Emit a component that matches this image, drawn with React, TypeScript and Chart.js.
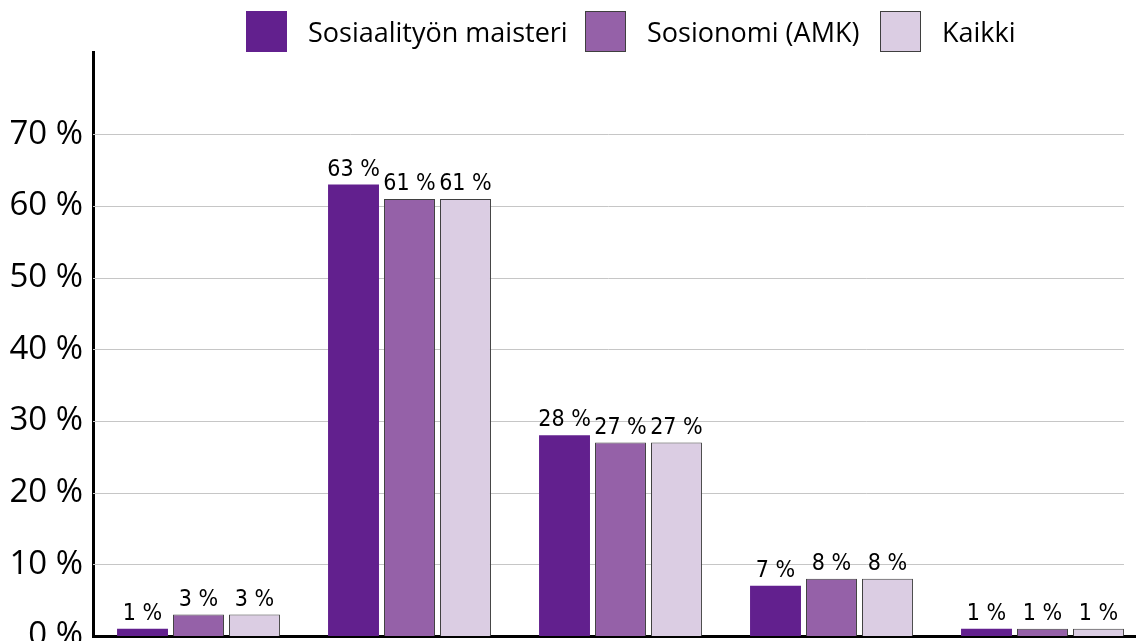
import React, { useEffect, useRef } from "react";
import { Chart, registerables } from "chart.js";

Chart.register(...registerables);

const categories = ["1", "2", "3", "4", "5"];
const seriesNames = ["Sosiaalityön maisteri", "Sosionomi (AMK)", "Kaikki"];
const sosiaalityo = [1, 63, 28, 7, 1];
const sosionomi = [3, 61, 27, 8, 1];
const kaikki = [3, 61, 27, 8, 1];
const yTicks = [0, 10, 20, 30, 40, 50, 60, 70];

const fills = ["#62208e", "#9561a8", "#dbcde3"];
const borders = ["#62208e", "#3f3f3f", "#3f3f3f"];

const gridPlugin = {
  id: "customGrid",
  beforeDatasetsDraw(chart: any) {
    const { ctx, chartArea, scales } = chart;
    const metaLast = chart.getDatasetMeta(chart.data.datasets.length - 1);
    const lastBar = metaLast.data[metaLast.data.length - 1] as any;
    const right = lastBar.x + lastBar.width / 2;
    ctx.save();
    ctx.strokeStyle = "#c6c6c6";
    ctx.lineWidth = 1;
    yTicks.forEach((v) => {
      if (v === 0) return;
      const y = Math.round(scales.y.getPixelForValue(v)) + 0.5;
      ctx.beginPath();
      ctx.moveTo(chartArea.left, y);
      ctx.lineTo(right, y);
      ctx.stroke();
    });
    ctx.restore();
  },
};

const labelPlugin = {
  id: "valueLabels",
  afterDatasetsDraw(chart: any) {
    const { ctx } = chart;
    ctx.save();
    ctx.font = '23px "DejaVu Sans Condensed", "DejaVu Sans"';
    ctx.fillStyle = "#000";
    ctx.textAlign = "center";
    ctx.textBaseline = "alphabetic";
    chart.data.datasets.forEach((ds: any, i: number) => {
      const meta = chart.getDatasetMeta(i);
      meta.data.forEach((bar: any, j: number) => {
        ctx.fillText(ds.data[j] + " %", bar.x, bar.y - 9);
      });
    });
    ctx.restore();
  },
};

export default function App() {
  const ref = useRef<HTMLCanvasElement>(null);
  useEffect(() => {
    const values = [sosiaalityo, sosionomi, kaikki];
    const chart = new Chart(ref.current!, {
      type: "bar",
      data: {
        labels: categories,
        datasets: seriesNames.map((name, i) => ({
          label: name,
          data: values[i],
          backgroundColor: fills[i],
          borderColor: borders[i],
          borderWidth: i === 0 ? 0 : 1,
          barPercentage: 0.91,
          categoryPercentage: 0.796,
        })),
      },
      options: {
        responsive: false,
        animation: false,
        layout: { padding: { top: 52, right: 2, bottom: 5, left: 0 } },
        plugins: { legend: { display: false }, tooltip: { enabled: false } },
        scales: {
          x: {
            ticks: { display: false },
            grid: { display: false, drawTicks: false, tickLength: 0 },
            border: { display: true, color: "#000", width: 3 },
            afterFit: (scale: any) => {
              scale.height = 0;
              scale.paddingLeft = 0;
              scale.paddingRight = 0;
            },
          },
          y: {
            min: 0,
            max: 81.5,
            afterBuildTicks: (scale: any) => {
              scale.ticks = yTicks.map((v) => ({ value: v }));
            },
            afterFit: (scale: any) => {
              scale.width = 93;
              scale.paddingTop = 0;
              scale.paddingBottom = 0;
            },
            ticks: {
              padding: 10,
              color: "#000",
              font: { family: '"Open Sans"', size: 33 },
              callback: (v: any) => v + " %",
            },
            grid: { display: false, drawTicks: false, tickLength: 0 },
            border: { display: true, color: "#000", width: 3 },
          },
        },
      },
      plugins: [gridPlugin, labelPlugin],
    });
    return () => chart.destroy();
  }, []);

  const legendX = [246, 585, 880];
  return (
    <div style={{ position: "absolute", left: 0, top: 0, width: 1136, height: 641, overflow: "hidden", background: "#fff" }}>
      <canvas ref={ref} width={1150} height={641} style={{ position: "absolute", left: 0, top: 0 }} />
      {seriesNames.map((name, i) => (
        <div key={name} style={{ position: "absolute", left: legendX[i], top: 11, height: 41, display: "flex", alignItems: "center", whiteSpace: "nowrap" }}>
          <div style={{ width: 41, height: 41, boxSizing: "border-box", background: fills[i], border: i === 0 ? "none" : "1px solid #3f3f3f" }} />
          <span style={{ marginLeft: 21, fontFamily: '"Open Sans"', fontSize: 27, color: "#000", lineHeight: "41px" }}>{name}</span>
        </div>
      ))}
    </div>
  );
}
